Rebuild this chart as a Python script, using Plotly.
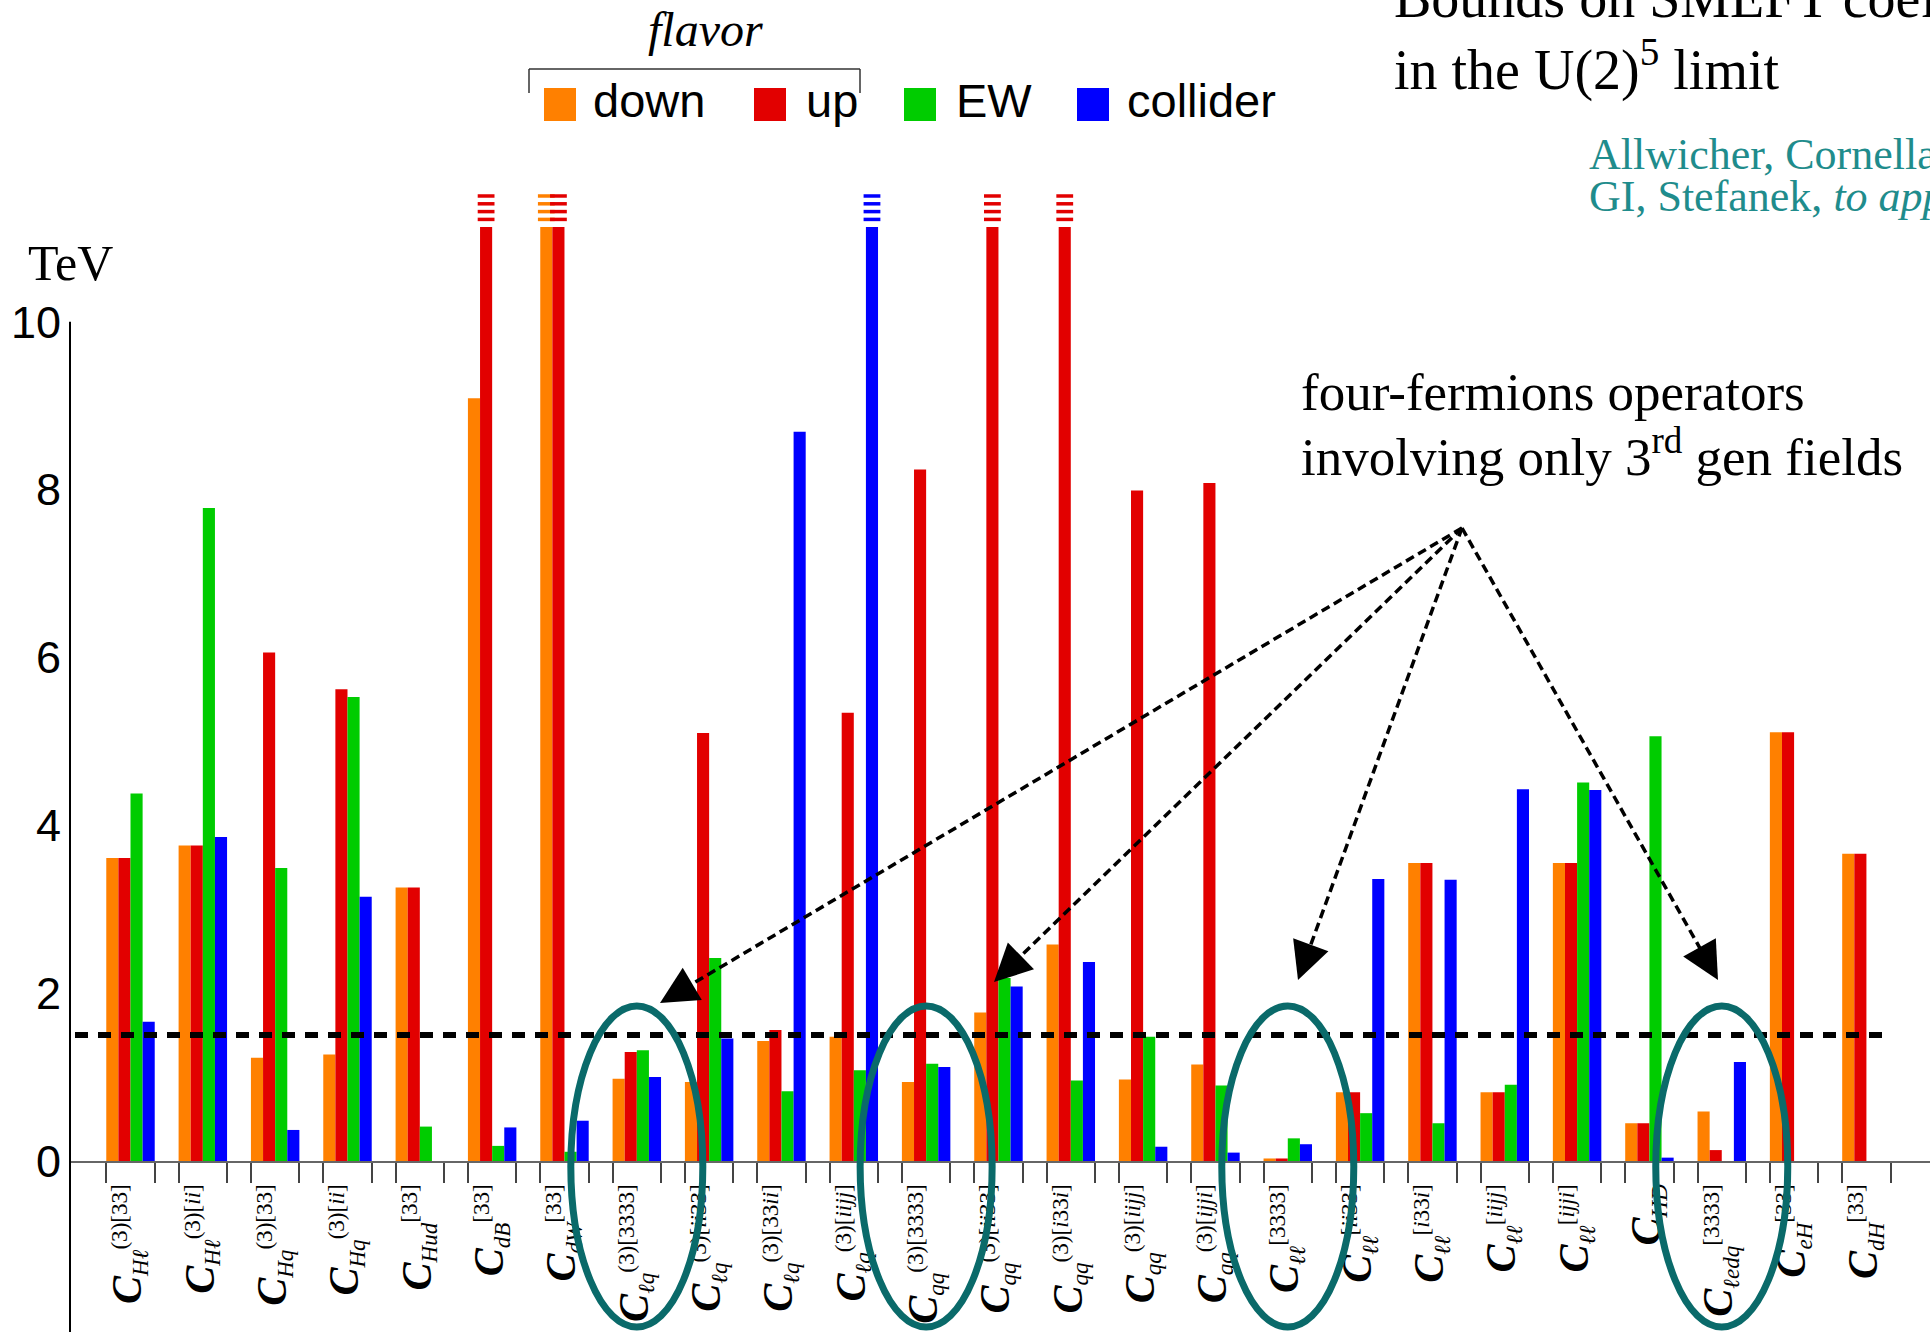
import math
import plotly.graph_objects as go

# ---------------- data ----------------
OPERATOR_SUB = ["Hℓ", "Hℓ", "Hq", "Hq", "Hud", "dB", "dW",
                "ℓq", "ℓq", "ℓq", "ℓq",
                "qq", "qq", "qq", "qq", "qq",
                "ℓℓ", "ℓℓ", "ℓℓ", "ℓℓ", "ℓℓ",
                "HD", "ℓedq", "eH", "dH"]
OPERATOR_SUP = ["(3)[33]", "(3)[ii]", "(3)[33]", "(3)[ii]", "[33]", "[33]", "[33]",
                "(3)[3333]", "(3)[ii33]", "(3)[33ii]", "(3)[iijj]",
                "(3)[3333]", "(3)[ii33]", "(3)[i33i]", "(3)[iijj]", "(3)[ijji]",
                "[3333]", "[ii33]", "[i33i]", "[iijj]", "[ijji]",
                "", "[3333]", "[33]", "[33]"]

OFF = float("inf")  # bound beyond the plotted scale (drawn clipped with dashes)

SERIES_NAMES = ["down", "up", "EW", "collider"]
DOWN = [3.61, 3.76, 1.23, 1.27, 3.26, 9.09, OFF, 0.98, 0.94, 1.43, 1.48, 0.94, 1.77,
        2.58, 0.97, 1.15, 0.03, 0.82, 3.55, 0.82, 3.55, 0.45, 0.59, 5.11, 3.66]
UP = [3.61, 3.76, 6.06, 5.62, 3.26, OFF, OFF, 1.30, 5.10, 1.56, 5.34, 8.24, OFF,
      OFF, 7.99, 8.08, 0.03, 0.82, 3.55, 0.82, 3.55, 0.45, 0.13, 5.11, 3.66]
EW = [4.38, 7.78, 3.49, 5.53, 0.41, 0.18, 0.11, 1.32, 2.42, 0.83, 1.08, 1.16, 2.18,
      0.96, 1.48, 0.90, 0.27, 0.57, 0.45, 0.91, 4.51, 5.06, None, None, None]
COLLIDER = [1.66, 3.86, 0.37, 3.15, None, 0.40, 0.48, 1.00, 1.46, 8.69, OFF, 1.12, 2.08,
            2.37, 0.17, 0.10, 0.20, 3.36, 3.35, 4.43, 4.42, 0.04, 1.18, None, None]

THRESHOLD = 1.5
Y_TICKS = [0, 2, 4, 6, 8, 10]
HIGHLIGHTED = [7, 11, 16, 22]   # operators with only 3rd-generation fields

# ---------------- style / layout constants ----------------
COLORS = ["#FF8000", "#E20000", "#00CC00", "#0000FF"]
TEAL = "#0a6a6a"
TEAL_TXT = "#1f8c8c"
SERIF = "Liberation Serif"
SANS = "Liberation Sans"

W, H = 1930, 1332
ML, MR, MT, MB = 70, 0, 185, 171
PW, PH = W - ML - MR, H - MT - MB
YMAX = 11.63
XMIN, XMAX = -0.8365, 24.879
BW = 0.1675
CAP = 11.13


def pxx(px):
    return (px - ML) / PW


def pxy(py):
    return (H - MB - py) / PH


def gx(i):
    return (i - XMIN) / (XMAX - XMIN)


def italic_letters(s):
    return "".join(f"<i>{c}</i>" if c.isalpha() else c for c in s)


LABELS = []
for sub, sup in zip(OPERATOR_SUB, OPERATOR_SUP):
    t = '<span style="font-size:42px"><b><i>C</i></b></span><sub><i>' + sub + "</i></sub>"
    if sup:
        t += "<sup>" + italic_letters(sup) + "</sup>"
    LABELS.append(t)

fig = go.Figure()
n = len(LABELS)
idx = list(range(n))
SERIES = [DOWN, UP, EW, COLLIDER]

for k, (name, vals, col) in enumerate(zip(SERIES_NAMES, SERIES, COLORS)):
    off = -2 * BW + k * BW
    ys = [None if v is None else (CAP if v == OFF else v) for v in vals]
    fig.add_trace(go.Bar(x=idx, y=ys, width=BW, offset=off, name=name,
                         marker=dict(color=col, line=dict(width=0)), showlegend=False))
    xs, yd = [], []
    for i, v in enumerate(vals):
        if v == OFF:
            for j in range(4):
                xs.append(i + off + BW / 2)
                yd.append(CAP + 0.09 + 0.093 * j)
    if xs:
        fig.add_trace(go.Scatter(x=xs, y=yd, mode="markers", showlegend=False, hoverinfo="skip",
                                 marker=dict(symbol="line-ew", size=12,
                                             line=dict(width=3.5, color=col))))

edges = []
for i in idx:
    edges += [i - 2 * BW, i + 2 * BW]

shapes = []
annotations = []

# y axis line from 0..10 extending down to bottom
shapes.append(dict(type="line", xref="paper", yref="paper", x0=0, x1=0,
                   y0=10 / YMAX, y1=pxy(H), line=dict(color="black", width=2)))

# threshold dashed line
shapes.append(dict(type="line", xref="paper", yref="y", x0=pxx(75), x1=pxx(1892),
                   y0=THRESHOLD, y1=THRESHOLD, line=dict(color="black", width=6, dash="13px,10px")))

# ellipses
for i in HIGHLIGHTED:
    cx = gx(i)
    hw = 66 / PW
    shapes.append(dict(type="circle", xref="paper", yref="paper", x0=cx - hw, x1=cx + hw,
                       y0=pxy(1327), y1=pxy(1006), line=dict(color=TEAL, width=7)))

# arrows
ORIGIN = (1462, 528)
TIPS = [(660, 1003), (994, 982), (1298, 980), (1718, 980)]
for tx, ty in TIPS:
    dx, dy = ORIGIN[0] - tx, ORIGIN[1] - ty
    L = math.hypot(dx, dy)
    ux, uy = dx / L, dy / L
    ex, ey = tx + 18 * ux, ty + 18 * uy
    shapes.append(dict(type="line", xref="paper", yref="paper",
                       x0=pxx(ORIGIN[0]), y0=pxy(ORIGIN[1]), x1=pxx(ex), y1=pxy(ey),
                       line=dict(color="black", width=3.5, dash="9px,5px")))
    annotations.append(dict(xref="paper", yref="paper", x=pxx(tx), y=pxy(ty),
                            axref="pixel", ayref="pixel", ax=30 * ux, ay=30 * uy,
                            text="", showarrow=True, arrowhead=2, arrowsize=2.5,
                            arrowwidth=3, arrowcolor="black", standoff=0))

# legend
LEG_SQ = [544, 754, 904, 1077]
LEG_TX = [591, 804, 954, 1125]
for name, col, sx, tx in zip(SERIES_NAMES, COLORS, LEG_SQ, LEG_TX):
    shapes.append(dict(type="rect", xref="paper", yref="paper", x0=pxx(sx), x1=pxx(sx + 32),
                       y0=pxy(121), y1=pxy(88), fillcolor=col, line=dict(width=0)))
    annotations.append(dict(xref="paper", yref="paper", x=pxx(tx), y=pxy(100), text=name,
                            showarrow=False, xanchor="left", yanchor="middle",
                            font=dict(family=SANS, size=47, color="black")))
# flavor bracket
for (x0, y0, x1, y1) in [(529, 69, 860, 69), (529, 69, 529, 93), (860, 69, 860, 93)]:
    shapes.append(dict(type="line", xref="paper", yref="paper", x0=pxx(x0), x1=pxx(x1),
                       y0=pxy(y0), y1=pxy(y1), line=dict(color="#333", width=1.5)))


def txt(x, y, s, size, family=SERIF, color="black", xanchor="left"):
    annotations.append(dict(xref="paper", yref="paper", x=pxx(x), y=pxy(y), text=s,
                            showarrow=False, xanchor=xanchor, yanchor="middle",
                            font=dict(family=family, size=size, color=color)))


txt(705, 29, "<i>flavor</i>", 48, xanchor="center")
txt(1392, -2, "Bounds on SMEFT coefficients", 56)
txt(1392, 66, "in the U(2)<sup>5</sup> limit", 56)
txt(1587, 155, "Allwicher, Cornella,", 44, color=TEAL_TXT)
txt(1587, 197, "GI, Stefanek, <i>to appear</i>", 44, color=TEAL_TXT)
txt(70, 263, "TeV", 50, xanchor="center")
txt(1299, 392, "four-fermions operators", 53)
txt(1299, 453, "involving only 3<sup>rd</sup> gen fields", 53)

fig.update_layout(
    width=W, height=H, autosize=False, template="none",
    margin=dict(l=ML, r=MR, t=MT, b=MB, pad=0),
    paper_bgcolor="white", plot_bgcolor="white",
    barmode="overlay", showlegend=False,
    xaxis=dict(range=[XMIN, XMAX], tickmode="array", tickvals=idx, ticktext=LABELS,
               tickangle=-90, ticks="outside", ticklen=8, tickcolor="rgba(0,0,0,0)",
               tickfont=dict(family=SERIF, size=33, color="black"),
               showline=True, linecolor="#666", linewidth=2, showgrid=False, zeroline=False,
               minor=dict(tickmode="array", tickvals=edges, ticks="outside", ticklen=20,
                          tickcolor="#444", tickwidth=1.5, showgrid=False),
               automargin=False),
    yaxis=dict(range=[0, YMAX], tickmode="array", tickvals=Y_TICKS,
               ticktext=[str(t) for t in Y_TICKS], ticks="", showline=False, showgrid=False,
               zeroline=False, tickfont=dict(family=SANS, size=45, color="black"),
               ticklabelstandoff=8, automargin=False),
    shapes=shapes, annotations=annotations,
)

fig.write_html("out.html")
